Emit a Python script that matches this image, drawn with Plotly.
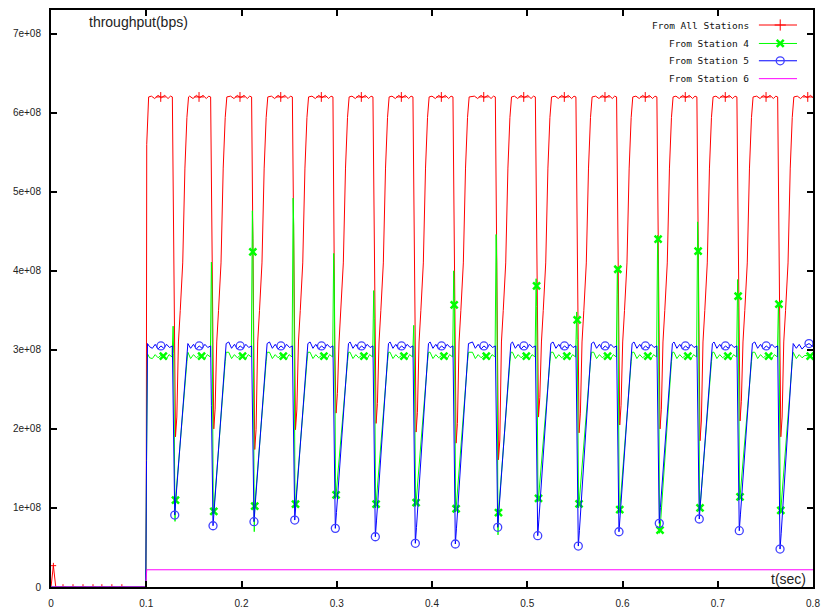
import plotly.graph_objects as go

# ---------------- data (values in units of 1e8 bps) ----------------
dip_t = [0.1299, 0.1701, 0.2131, 0.2559, 0.2985, 0.3405, 0.3825, 0.4245,
         0.4690, 0.5110, 0.5536, 0.5963, 0.6386, 0.6806, 0.7226, 0.7654]
all_min = [1.90, 2.00, 1.74, 1.99, 2.20, 2.07, 1.96, 1.82,
           1.61, 2.15, 1.95, 2.05, 2.00, 1.85, 2.10, 1.90]
st5_min = [0.91, 0.775, 0.826, 0.847, 0.742, 0.636, 0.553, 0.544,
           0.755, 0.649, 0.518, 0.699, 0.805, 0.86, 0.712, 0.48]
st4_dip = [0.83, 0.93, 0.70, 1.00, 1.12, 1.00, 1.02, 0.95,
           0.66, 1.08, 1.00, 0.94, 0.68, 0.96, 1.10, 0.93]
st4_dip_mark = [1.10, 0.957, 1.024, 1.05, 1.167, 1.05, 1.066, 0.99,
                0.94, 1.12, 1.053, 0.98, 0.72, 1.0, 1.14, 0.97]
st4_spike = [3.30, 4.11, 4.76, 4.92, 4.22, 3.75, 3.31, 4.00,
             4.46, 3.90, 3.48, 4.05, 4.45, 4.62, 3.89, 3.60]
spike_mark_idx = [2, 7, 9, 10, 11, 12, 13, 14, 15]
spike_mark_val = [4.24, 3.57, 3.81, 3.38, 4.02, 4.40, 4.25, 3.68, 3.58]
st6_level = 0.218

# start (t < 0.104) and tail (t > 0.78) pieces
all_start_t = [0.0, 0.0025, 0.005, 0.0995, 0.1000, 0.1005, 0.1025]
all_start_v = [0.0, 0.27, 0.0, 0.0, 1.0, 5.6, 6.2]
st5_start_t = [0.0, 0.0995, 0.1003, 0.1013, 0.1035]
st5_start_v = [0.0, 0.0, 1.6, 3.08, 3.04]
st4_start_t = [0.0, 0.0995, 0.1003, 0.1013, 0.1035]
st4_start_v = [0.0, 0.0, 1.6, 2.95, 2.90]
all_tail_t = [0.7835, 0.7870, 0.7905, 0.7940, 0.7975, 0.8000]
all_tail_v = [6.21, 6.18, 6.22, 6.19, 6.22, 6.19]
st5_tail_t = [0.7825, 0.7855, 0.7885, 0.7915, 0.7958, 0.8000]
st5_tail_v = [3.02, 3.07, 3.01, 3.05, 3.08, 3.04]
st4_tail_t = [0.7825, 0.7855, 0.7885, 0.7915, 0.7970, 0.8000]
st4_tail_v = [2.89, 2.94, 2.90, 2.93, 2.92, 2.90]
st6_t = [0.0, 0.0995, 0.1005, 0.8]
st6_v = [0.0, 0.0, st6_level, st6_level]

# per-cycle shape (offsets from the dip time, seconds) and plateau levels
all_plat_off = [-0.0245, -0.021, -0.0175, -0.014, -0.0105, -0.007, -0.0045, -0.0025]
all_plat_val = [6.21, 6.18, 6.22, 6.19, 6.22, 6.18, 6.21, 6.20]
all_rise_off = [0.0022, 0.0039, 0.0058, 0.0084, 0.0107, 0.0128, 0.0145]
all_rise_val = [None, 3.1, 3.5, 4.1, 5.3, 5.94, 6.2]
st5_plat_off = [-0.0265, -0.0235, -0.0205, -0.0175, -0.0145, -0.0115, -0.0085, -0.0055, -0.0025]
st5_plat_val = [3.10, 3.02, 3.07, 3.01, 3.05, 3.02, 3.07, 3.03, 3.05]
st4_plat_off = [-0.0265, -0.0235, -0.0205, -0.0175, -0.0145, -0.012, -0.009, -0.006, -0.0028]
st4_plat_val = [2.97, 2.89, 2.94, 2.90, 2.93, 2.92, 2.88, 2.94, 2.91]

# marker samples
all_pre_mark_t = [0.0025, 0.0126, 0.0231, 0.0336, 0.0441, 0.0534, 0.0639, 0.0744]
all_pre_mark_v = [0.27, 0, 0, 0, 0, 0, 0, 0]


def add_plateau(ts, vs, d, offs, vals):
    for o, v in zip(offs, vals):
        t = d + o
        if t > ts[-1] + 0.0004:
            ts.append(t)
            vs.append(v)


# ---- All stations (red)
all_t, all_v = list(all_start_t), list(all_start_v)
for i, d in enumerate(dip_t):
    add_plateau(all_t, all_v, d, all_plat_off, all_plat_val)
    all_t += [d - 0.0015, d - 0.0005, d + 0.0008]
    all_v += [4.6, 3.0, all_min[i]]
    for o, v in zip(all_rise_off, all_rise_val):
        all_t.append(d + o)
        all_v.append(all_min[i] + 0.25 if v is None else v)
all_t += all_tail_t
all_v += all_tail_v

# ---- Station 5 (blue)
s5_t, s5_v = list(st5_start_t), list(st5_start_v)
for i, d in enumerate(dip_t):
    add_plateau(s5_t, s5_v, d, st5_plat_off, st5_plat_val)
    s5_t += [d - 0.0017, d - 0.0007, d, d + 0.0012, d + 0.0128, d + 0.0138]
    s5_v += [2.3, 1.3, st5_min[i], st5_min[i] + 0.2, 2.95, 3.08]
s5_t += st5_tail_t
s5_v += st5_tail_v

# ---- Station 4 (green)
s4_t, s4_v = list(st4_start_t), list(st4_start_v)
for i, d in enumerate(dip_t):
    add_plateau(s4_t, s4_v, d, st4_plat_off, st4_plat_val)
    s4_t += [d - 0.0017, d - 0.0011, d + 0.0003, d + 0.0008, d + 0.0128, d + 0.0138]
    s4_v += [st4_spike[i], st4_spike[i] - 0.35, st4_dip[i], st4_dip_mark[i], 2.85, 2.97]
s4_t += st4_tail_t
s4_v += st4_tail_v

# ---- markers
all_mk_t = [d - 0.0147 for d in dip_t] + [0.7945]
all_mk_v = [6.2] * len(dip_t) + [6.2]
s5_mk_t = [d - 0.0145 for d in dip_t] + [0.7958] + list(dip_t)
s5_mk_v = [3.05] * len(dip_t) + [3.08] + list(st5_min)
s4_mk_t = ([d - 0.012 for d in dip_t] + [0.797] + [d + 0.0008 for d in dip_t]
           + [dip_t[k] - 0.0012 for k in spike_mark_idx])
s4_mk_v = [2.92] * len(dip_t) + [2.92] + list(st4_dip_mark) + list(spike_mark_val)

RED, GREEN, BLUE, MAG = "#ff0000", "#00ff00", "#0000ff", "#ff00ff"
y_tickvals = [0, 1, 2, 3, 4, 5, 6, 7]
y_ticktext = ["0", "1e+08", "2e+08", "3e+08", "4e+08", "5e+08", "6e+08", "7e+08"]
x_tickvals = [0, 0.1, 0.2, 0.3, 0.4, 0.5, 0.6, 0.7, 0.8]
x_ticktext = ["0", "0.1", "0.2", "0.3", "0.4", "0.5", "0.6", "0.7", "0.8"]
legend_labels = ["From All Stations", "From Station 4", "From Station 5", "From Station 6"]

fig = go.Figure()
fig.add_trace(go.Scatter(x=all_t, y=all_v, mode="lines", line=dict(color=RED, width=1)))
fig.add_trace(go.Scatter(x=all_mk_t, y=all_mk_v, mode="markers",
                         marker=dict(symbol="cross-thin", size=7, line=dict(color=RED, width=1))))
fig.add_trace(go.Scatter(x=all_pre_mark_t, y=all_pre_mark_v, mode="markers",
                         marker=dict(symbol="cross-thin", size=4, line=dict(color=RED, width=1))))
fig.add_trace(go.Scatter(x=s4_t, y=s4_v, mode="lines", line=dict(color=GREEN, width=1)))
fig.add_trace(go.Scatter(x=s4_mk_t, y=s4_mk_v, mode="markers",
                         marker=dict(symbol="x-thin", size=7, line=dict(color=GREEN, width=2.5))))
fig.add_trace(go.Scatter(x=s5_t, y=s5_v, mode="lines", line=dict(color=BLUE, width=1)))
fig.add_trace(go.Scatter(x=s5_mk_t, y=s5_mk_v, mode="markers",
                         marker=dict(symbol="circle-open", size=8, color="#4040ff",
                                     line=dict(color="#4040ff", width=1.3))))
fig.add_trace(go.Scatter(x=st6_t, y=st6_v, mode="lines", line=dict(color=MAG, width=1)))

# ---- gnuplot-style key (text right, sample to the right), drawn on an overlay axis
key_rows = [0.974, 0.942, 0.912, 0.881]
key_line_x = [0.929, 0.979]
key_mark_x = 0.957
key_colors = [RED, GREEN, "#4040ff", MAG]
key_symbols = ["cross-thin", "x-thin", "circle-open", None]
key_lw = [1, 2.5, 1.3, 0]
for r, c, s, lw in zip(key_rows, key_colors, key_symbols, key_lw):
    fig.add_trace(go.Scatter(x=key_line_x, y=[r, r], mode="lines", xaxis="x2", yaxis="y2",
                             line=dict(color=c if c != "#4040ff" else BLUE, width=1)))
    if s:
        fig.add_trace(go.Scatter(x=[key_mark_x], y=[r], mode="markers", xaxis="x2", yaxis="y2",
                                 marker=dict(symbol=s, size=8 if s != "x-thin" else 7, color=c,
                                             line=dict(color=c, width=lw))))

annotations = []
for lab, r in zip(legend_labels, key_rows):
    annotations.append(dict(x=0.919, y=r, xref="x2", yref="y2", text=lab, showarrow=False,
                            xanchor="right", yanchor="middle",
                            font=dict(family="DejaVu Sans Mono", size=9.5, color="#111")))
annotations.append(dict(x=0.047, y=0.979, xref="x2", yref="y2", text="throughput(bps)",
                        showarrow=False, xanchor="left", yanchor="middle",
                        font=dict(family="Liberation Sans", size=14, color="#222")))
annotations.append(dict(x=0.9934, y=0.0139, xref="x2", yref="y2", text="t(sec)",
                        showarrow=False, xanchor="right", yanchor="middle",
                        font=dict(family="Liberation Sans", size=14, color="#222")))

axis_common = dict(showgrid=False, zeroline=False, showline=True, linecolor="black",
                   linewidth=2, mirror="ticks", ticks="inside", ticklen=6, tickwidth=1.5,
                   tickcolor="black", automargin=False,
                   tickfont=dict(family="Liberation Sans", size=10, color="#222"))
fig.update_layout(
    width=825, height=613, autosize=False,
    margin=dict(l=51, r=12, t=10, b=26),
    paper_bgcolor="white", plot_bgcolor="white",
    showlegend=False,
    xaxis=dict(range=[0, 0.8], tickvals=x_tickvals, ticktext=x_ticktext,
               ticklabelstandoff=6, **axis_common),
    yaxis=dict(range=[0, 7.3], tickvals=y_tickvals, ticktext=y_ticktext,
               ticklabelstandoff=6, **axis_common),
    xaxis2=dict(range=[0, 1], overlaying="x", visible=False, anchor="y2"),
    yaxis2=dict(range=[0, 1], overlaying="y", visible=False, anchor="x2"),
    annotations=annotations,
)
fig.write_html("out.html", config=dict(displayModeBar=False),
               post_script="document.body.style.margin='0';document.body.style.overflow='hidden';")
